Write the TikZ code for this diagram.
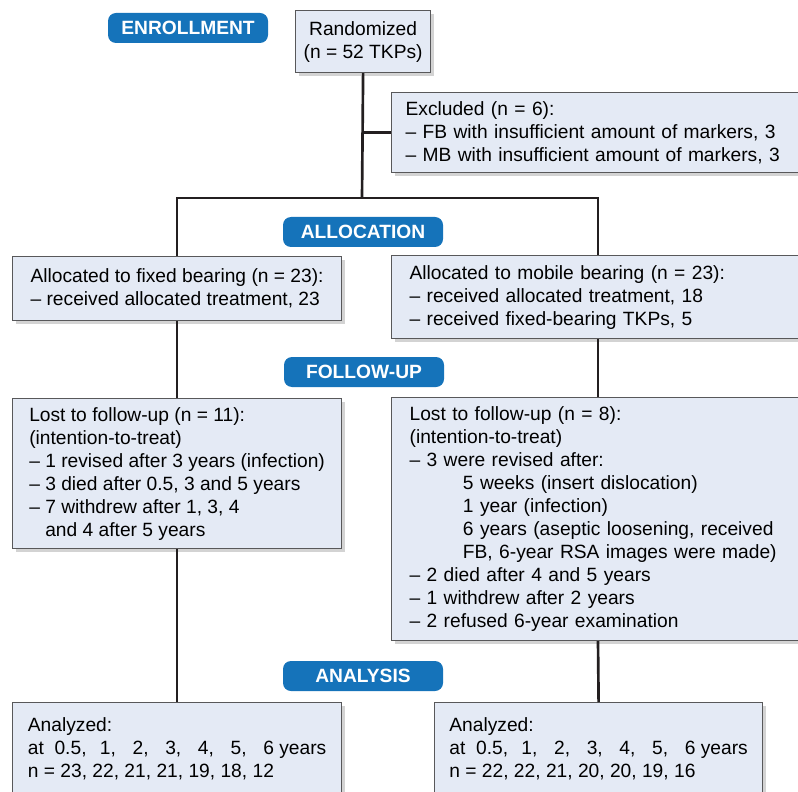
\documentclass[tikz,border=0pt]{standalone}
\usepackage{fontspec}
\setmainfont{Liberation Sans}
\usetikzlibrary{shadows}

\definecolor{boxfill}{RGB}{228,234,245}
\definecolor{boxline}{RGB}{88,88,90}
\definecolor{phaseblue}{RGB}{21,115,186}
\definecolor{flowline}{RGB}{35,31,32}

\begin{document}
\begin{tikzpicture}[
    x=0.75pt, y=-0.75pt, % pixel grid, y going down
    font=\fontsize{14.4}{17.25}\selectfont,
    box/.style={
      rectangle,
      draw=boxline,
      line width=0.9pt,
      fill=boxfill,
      align=left,
      anchor=north west,
      drop shadow={shadow xshift=2.5pt, shadow yshift=-2.5pt, opacity=0.35}
    },
    phase/.style={
      rectangle,
      rounded corners=6pt,
      fill=phaseblue,
      text=white,
      font=\fontsize{14.4}{17.25}\selectfont\bfseries,
      minimum width=120pt,
      minimum height=22.5pt
    },
    flow/.style={line width=2pt, draw=flowline}
  ]
    \useasboundingbox (0,0) rectangle (798,791);
    \clip (0,0) rectangle (798,791);

    % Phase labels
    \node[phase] (enroll) at (188,28) {ENROLLMENT};
    \node[phase] (alloc) at (363,232) {ALLOCATION};
    \node[phase] (follow) at (364,372) {FOLLOW-UP};
    \node[phase] (analysis) at (363,676) {ANALYSIS};

    % Enrollment
    \node[
      box,
      align=center,
      minimum width=101.25pt,
      minimum height=46.5pt
    ] (rand) at (295,10) {Randomized\\(n = 52 TKPs)};
    \node[
      box,
      text width=300pt,
      inner xsep=10.5pt,
      minimum height=60pt
    ] (excl) at (391,92) {Excluded (n = 6):\\
      – FB with insufficient amount of markers, 3\\
      – MB with insufficient amount of markers, 3};

    % Allocation
    \node[
      box,
      minimum width=246.75pt,
      minimum height=48pt
    ] (allocfb) at (12,256) {Allocated to fixed bearing (n = 23):\\
      – received allocated treatment, 23};
    \node[
      box,
      text width=300pt,
      inner xsep=13.5pt,
      minimum height=62.25pt
    ] (allocmb) at (391,255) {Allocated to mobile bearing (n = 23):\\
      – received allocated treatment, 18\\
      – received fixed-bearing TKPs, 5};

    % Follow-up
    \node[
      box,
      minimum width=246.75pt,
      minimum height=112.5pt
    ] (lostfb) at (12,398) {Lost to follow-up (n = 11):\\
      (intention-to-treat)\\
      – 1 revised after 3 years (infection)\\
      – 3 died after 0.5, 3 and 5 years\\
      – 7 withdrew after 1, 3, 4\\
      \hspace*{12pt}and 4 after 5 years};
    \node[
      box,
      text width=300pt,
      inner xsep=13.5pt,
      minimum height=182.25pt
    ] (lostmb) at (391,397) {Lost to follow-up (n = 8):\\
      (intention-to-treat)\\
      – 3 were revised after:\\
      \hspace*{40pt}5 weeks (insert dislocation)\\
      \hspace*{40pt}1 year (infection)\\
      \hspace*{40pt}6 years (aseptic loosening, received\\
      \hspace*{40pt}FB, 6-year RSA images were made)\\
      – 2 died after 4 and 5 years\\
      – 1 withdrew after 2 years\\
      – 2 refused 6-year examination};

    % Analysis
    \node[
      box,
      minimum width=246.75pt,
      minimum height=69pt
    ] (anafb) at (12,702) {Analyzed:\\
      at\hspace{8pt}0.5,\hspace{10pt}1,\hspace{12.5pt}2,\hspace{12.5pt}3,\hspace{12.5pt}4,\hspace{12.5pt}5,\hspace{12.5pt}6 years\\
      n = 23, 22, 21, 21, 19, 18, 12};
    \node[
      box,
      minimum width=246pt,
      minimum height=69pt
    ] (anamb) at (434,702) {Analyzed:\\
      at\hspace{8pt}0.5,\hspace{10pt}1,\hspace{12.5pt}2,\hspace{12.5pt}3,\hspace{12.5pt}4,\hspace{12.5pt}5,\hspace{12.5pt}6 years\\
      n = 22, 22, 21, 20, 20, 19, 16};

    % Split points of the flow
    \coordinate (split) at (362,198);
    \coordinate (mbline) at (598,198);

    % Connectors
    \draw[flow] (rand.south) -- (split);
    \draw[flow] (rand.south |- excl.west) -- (excl.west);
    \draw[flow] (allocfb.north) |- (mbline) -- (allocmb.north -| mbline);
    \draw[flow] (allocfb.south) -- (lostfb.north);
    \draw[flow] (allocmb.south -| mbline) -- (lostmb.north -| mbline);
    \draw[flow] (lostfb.south) -- (anafb.north);
    \draw[flow] (lostmb.south -| mbline) -- (anamb.north);
  \end{tikzpicture}
\end{document}
